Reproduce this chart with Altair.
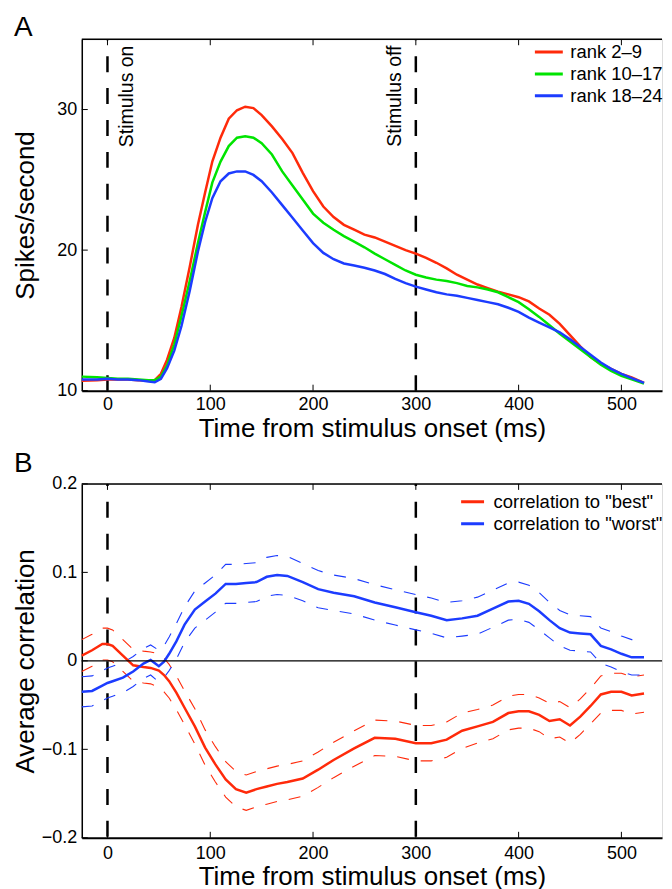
import altair as alt
import pandas as pd

# ---------------- Panel A: firing rates ----------------
t_a = [-25, -10, 0, 10, 20, 30, 40, 46, 52, 58, 65, 72, 80, 88, 95, 102, 110, 118, 126, 134,
       142, 150, 160, 170, 180, 190, 200, 210, 220, 230, 240, 250, 260, 270, 280, 290, 300,
       310, 320, 330, 340, 350, 360, 370, 380, 390, 400, 410, 420, 430, 440, 450, 460, 470,
       480, 490, 500, 510, 522]
rank_2_9 = [10.7, 10.75, 10.8, 10.8, 10.8, 10.75, 10.7, 10.75, 11.2, 12.2, 13.75, 15.95, 18.8,
            21.8, 24.1, 26.3, 28.0, 29.35, 29.95, 30.2, 30.1, 29.6, 28.8, 27.9, 26.9, 25.5,
            24.2, 23.1, 22.35, 21.8, 21.45, 21.1, 20.9, 20.6, 20.3, 20.0, 19.75, 19.45, 19.1,
            18.7, 18.25, 17.9, 17.55, 17.3, 17.05, 16.85, 16.65, 16.35, 15.85, 15.4, 14.75,
            13.95, 13.15, 12.4, 11.9, 11.55, 11.2, 10.95, 10.55]
rank_10_17 = [11.0, 10.95, 10.9, 10.85, 10.85, 10.8, 10.75, 10.75, 11.0, 11.8, 13.3, 15.3, 17.8,
              20.5, 22.7, 24.8, 26.3, 27.4, 28.0, 28.1, 28.0, 27.6, 26.8, 25.6, 24.6, 23.6,
              22.6, 21.95, 21.45, 21.0, 20.6, 20.2, 19.75, 19.35, 18.95, 18.55, 18.25, 18.05,
              17.9, 17.8, 17.65, 17.45, 17.35, 17.2, 17.0, 16.65, 16.3, 15.8, 15.25, 14.65,
              14.05, 13.5, 12.95, 12.4, 11.85, 11.4, 11.05, 10.8, 10.5]
rank_18_24 = [10.8, 10.8, 10.85, 10.8, 10.8, 10.75, 10.65, 10.6, 10.85, 11.6, 12.85, 14.6, 17.1,
              19.9, 22.0, 23.7, 24.9, 25.45, 25.6, 25.6, 25.35, 24.9, 24.1, 23.2, 22.3, 21.4,
              20.5, 19.8, 19.35, 19.05, 18.9, 18.75, 18.55, 18.3, 17.95, 17.65, 17.4, 17.2,
              17.0, 16.85, 16.75, 16.6, 16.45, 16.3, 16.15, 15.9, 15.6, 15.2, 14.85, 14.5,
              14.15, 13.65, 13.1, 12.55, 12.0, 11.55, 11.2, 10.9, 10.55]
names_a = ["rank 2\u20139", "rank 10\u201317", "rank 18\u201324"]

# ---------------- Panel B: correlations ----------------
t_b = [-25, -15, -5, 0, 5, 15, 25, 35, 42, 50, 55, 60, 67, 75, 85, 95, 105, 115, 125, 135,
       145, 155, 165, 175, 190, 205, 220, 240, 260, 280, 300, 315, 330, 345, 360, 375, 390,
       400, 410, 420, 430, 440, 450, 460, 470, 480, 490, 500, 510, 522]
best = [0.006, 0.012, 0.019, 0.019, 0.017, 0.006, -0.005, -0.007, -0.008, -0.011, -0.016,
        -0.023, -0.036, -0.053, -0.074, -0.098, -0.117, -0.134, -0.145, -0.149, -0.145,
        -0.142, -0.139, -0.137, -0.133, -0.123, -0.112, -0.099, -0.087, -0.088, -0.093,
        -0.093, -0.089, -0.079, -0.074, -0.069, -0.059, -0.057, -0.057, -0.061, -0.068,
        -0.066, -0.073, -0.063, -0.051, -0.038, -0.035, -0.035, -0.039, -0.037]
best_se = [0.018, 0.018, 0.018, 0.018, 0.018, 0.018, 0.018, 0.018, 0.018, 0.019, 0.019,
           0.019, 0.019, 0.019, 0.02, 0.02, 0.02, 0.02, 0.02, 0.02, 0.02, 0.02, 0.02, 0.02,
           0.02, 0.02, 0.02, 0.02, 0.02, 0.02, 0.02, 0.02, 0.02, 0.02, 0.019, 0.019, 0.019,
           0.019, 0.019, 0.019, 0.02, 0.02, 0.02, 0.02, 0.02, 0.021, 0.021, 0.021, 0.021, 0.021]
worst = [-0.035, -0.034, -0.028, -0.025, -0.023, -0.019, -0.012, -0.003, 0.001, -0.006,
         -0.001, 0.008, 0.022, 0.041, 0.058, 0.067, 0.076, 0.087, 0.087, 0.088, 0.089, 0.095,
         0.097, 0.096, 0.089, 0.081, 0.077, 0.073, 0.066, 0.0605, 0.055, 0.051, 0.046, 0.048,
         0.051, 0.059, 0.067, 0.068, 0.0645, 0.056, 0.046, 0.037, 0.032, 0.031, 0.03, 0.017,
         0.013, 0.008, 0.004, 0.004]
worst_se = [0.017, 0.017, 0.017, 0.017, 0.017, 0.017, 0.017, 0.017, 0.017, 0.018, 0.018,
            0.019, 0.02, 0.02, 0.021, 0.021, 0.021, 0.022, 0.022, 0.022, 0.022, 0.022, 0.022,
            0.022, 0.021, 0.021, 0.02, 0.02, 0.02, 0.02, 0.02, 0.02, 0.02, 0.02, 0.021, 0.021,
            0.021, 0.021, 0.021, 0.021, 0.02, 0.02, 0.02, 0.02, 0.02, 0.02, 0.02, 0.02, 0.02, 0.02]
names_b = ['correlation to "best"', 'correlation to "worst"']

x_ticks = [0, 100, 200, 300, 400, 500]
ya_ticks = [10, 20, 30]
yb_ticks = [-0.2, -0.1, 0, 0.1, 0.2]
stim_times = [0, 300]
stim_labels = ["Stimulus on", "Stimulus off"]
stim_label_t = [19, 280]
stim_label_y = [34.55, 34.55]
panel_letters = ["A", "B"]

FONT = "Liberation Sans"
RED, GREEN, BLUE = "#ff2a0a", "#00e400", "#1c3cff"
W, HA, HB = 582, 352.5, 355
X_DOMAIN = [-25, 539.5]

x_scale = alt.Scale(domain=X_DOMAIN, nice=False, zero=False)


def x_axis(label_pad, title_pad):
    return alt.Axis(values=x_ticks, title="Time from stimulus onset (ms)", ticks=False, grid=False,
                    domainColor="black", domainWidth=2, labelFontSize=18, titleFontSize=26,
                    labelPadding=label_pad, titlePadding=title_pad, labelFont=FONT, titleFont=FONT,
                    titleFontWeight="normal", labelColor="black", titleColor="black")


xa_axis = x_axis(5, 2)
xb_axis = x_axis(7, 1)


def XA(field="t"):
    return alt.X(f"{field}:Q", scale=x_scale, axis=xa_axis)


def XB(field="t"):
    return alt.X(f"{field}:Q", scale=x_scale, axis=xb_axis)


ya_scale = alt.Scale(domain=[10, 35], nice=False, zero=False)
ya_axis = alt.Axis(values=ya_ticks, title="Spikes/second", ticks=False, grid=False,
                   domainColor="black", domainWidth=1.5, labelFontSize=18, titleFontSize=26,
                   labelPadding=5, titleX=-43, titleY=HA / 2, labelFont=FONT, titleFont=FONT,
                   titleFontWeight="normal", labelColor="black", titleColor="black")
yb_scale = alt.Scale(domain=[-0.2, 0.2], nice=False, zero=False)
yb_axis = alt.Axis(values=yb_ticks, title="Average correlation", ticks=False, grid=False,
                   domainColor="black", domainWidth=1.5, labelFontSize=18, titleFontSize=26,
                   labelPadding=5, titleX=-43, titleY=HB / 2, labelFont=FONT, titleFont=FONT,
                   titleFontWeight="normal", labelColor="black", titleColor="black",
                   labelExpr="datum.value == 0 ? '0' : format(datum.value, '.1f')")


def YA(field="v"):
    return alt.Y(f"{field}:Q", scale=ya_scale, axis=ya_axis)


def YB(field="v"):
    return alt.Y(f"{field}:Q", scale=yb_scale, axis=yb_axis)


# ---------- data frames ----------
rows = []
for name, vals in zip(names_a, [rank_2_9, rank_10_17, rank_18_24]):
    for t, v in zip(t_a, vals):
        rows.append({"t": t, "v": v, "series": name})
df_a = pd.DataFrame(rows)

rows, brows = [], []
for name, vals, se in zip(names_b, [best, worst], [best_se, worst_se]):
    for t, v, s in zip(t_b, vals, se):
        rows.append({"t": t, "v": v, "series": name})
        brows.append({"t": t, "v": v + s, "series": name, "bound": "upper"})
        brows.append({"t": t, "v": v - s, "series": name, "bound": "lower"})
df_b = pd.DataFrame(rows)
df_bounds = pd.DataFrame(brows)

df_stim = pd.DataFrame({"t": stim_times})
df_stim_text = pd.DataFrame({"t": stim_label_t, "v": stim_label_y, "label": stim_labels})
df_xt = pd.DataFrame({"t": x_ticks})
df_yta = pd.DataFrame({"v": ya_ticks})
df_ytb = pd.DataFrame({"v": yb_ticks})


def frame_layers(X, Y, ytop, df_yt, H, dash_offset, letter, letter_y):
    dash = alt.Chart(df_stim).mark_rule(color="black", strokeWidth=2.5, strokeDash=[16, 16],
                                        strokeDashOffset=dash_offset).encode(x=X())
    top = alt.Chart(pd.DataFrame({"v": [ytop]})).mark_rule(color="black", strokeWidth=1.5).encode(y=Y())
    bt = alt.Chart(df_xt).mark_rule(color="black", strokeWidth=1).encode(
        x=X(), y=alt.value(H - 6), y2=alt.value(H))
    tt = alt.Chart(df_xt).mark_rule(color="black", strokeWidth=1).encode(
        x=X(), y=alt.value(0), y2=alt.value(6))
    lt = alt.Chart(df_yt).mark_rule(color="black", strokeWidth=1).encode(
        y=Y(), x=alt.value(0), x2=alt.value(6))
    let = alt.Chart(pd.DataFrame({"label": [letter]})).mark_text(
        fontSize=28, font=FONT, color="black", align="left", baseline="alphabetic").encode(
        text="label:N", x=alt.value(-68), y=alt.value(letter_y))
    return [dash, top, bt, tt, lt, let]


# ---------- Panel A ----------
lines_a = alt.Chart(df_a).mark_line(strokeWidth=2.5).encode(
    x=XA(), y=YA(),
    color=alt.Color("series:N", sort=names_a,
                    scale=alt.Scale(domain=names_a, range=[RED, GREEN, BLUE]),
                    legend=alt.Legend(title=None, orient="none", legendX=453, legendY=4,
                                      symbolType="stroke", symbolSize=784, symbolStrokeWidth=3,
                                      labelFontSize=18.5, labelFont=FONT, labelColor="black",
                                      labelOffset=6, rowPadding=2, clipHeight=17.5, padding=0,
                                      labelLimit=400)),
)
stim_text = alt.Chart(df_stim_text).mark_text(angle=270, align="right", baseline="middle",
                                              fontSize=19.5, font=FONT, color="black").encode(
    x=XA(), y=YA(), text="label:N")

panel_a = alt.layer(*(frame_layers(XA, YA, 35, df_yta, HA, 15, panel_letters[0], -3)
                      + [lines_a, stim_text])).properties(width=W, height=HA)

# ---------- Panel B ----------
bounds_red = alt.Chart(df_bounds[df_bounds.series == names_b[0]]).mark_line(
    strokeWidth=1.1, strokeDash=[12, 12], color=RED).encode(x=XB(), y=YB(), detail="bound:N")
bounds_blue = alt.Chart(df_bounds[df_bounds.series == names_b[1]]).mark_line(
    strokeWidth=1.1, strokeDash=[12, 12], color=BLUE).encode(x=XB(), y=YB(), detail="bound:N")
lines_b = alt.Chart(df_b).mark_line(strokeWidth=2.5).encode(
    x=XB(), y=YB(),
    color=alt.Color("series:N", sort=names_b,
                    scale=alt.Scale(domain=names_b, range=[RED, BLUE]),
                    legend=alt.Legend(title=None, orient="none", legendX=379, legendY=8,
                                      symbolType="stroke", symbolSize=529, symbolStrokeWidth=3,
                                      labelFontSize=18.5, labelFont=FONT, labelColor="black",
                                      labelOffset=8, rowPadding=2, clipHeight=20, padding=0,
                                      labelLimit=400)),
)
zero = alt.Chart(pd.DataFrame({"v": [0]})).mark_rule(color="black", strokeWidth=1.2).encode(y=YB())

panel_b = alt.layer(*(frame_layers(XB, YB, 0.2, df_ytb, HB, 14, panel_letters[1], -12)
                      + [bounds_red, bounds_blue, lines_b, zero])).properties(width=W, height=HB)

chart = alt.vconcat(panel_a, panel_b, spacing=7).resolve_scale(
    color="independent", y="independent", x="independent"
).properties(
    padding={"left": 4, "top": 4, "right": 0, "bottom": 0}
).configure_view(stroke=None).configure(background="white")

chart.save("out.html", embed_options={"renderer": "svg", "actions": False})
